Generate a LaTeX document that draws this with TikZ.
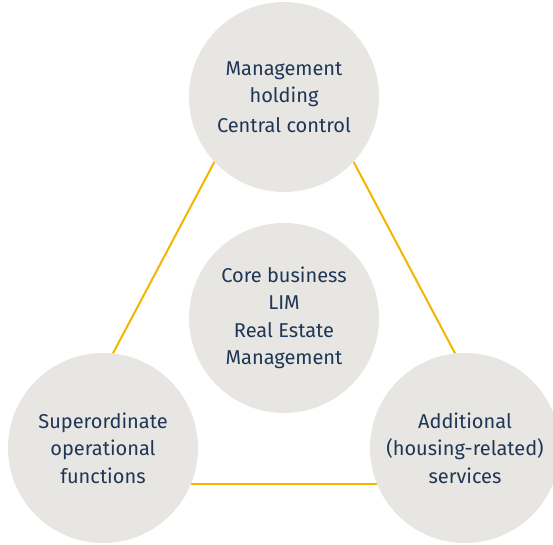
\documentclass[tikz,border=0pt]{standalone}
\usepackage{fontspec}
\setsansfont{Fira Sans}
\usetikzlibrary{backgrounds}
\definecolor{discgrey}{HTML}{E7E6E2}
\definecolor{inknavy}{HTML}{1F3656}
\definecolor{linkgold}{HTML}{F4B400}
\tikzset{
  disc/.style={circle, fill=discgrey, minimum size=190pt, inner sep=0pt,
    align=center, text=inknavy, font=\sffamily\fontsize{20}{27.5}\selectfont},
  link/.style={linkgold, line width=2pt}
}
\begin{document}
\begin{tikzpicture}[x=1pt, y=-1pt]
    \useasboundingbox (0,0) rectangle (553,544);
    % the four fields
    \node[disc] (holding) at (284,97) {Management\\holding\\[2pt]Central control};
    \node[disc] (core) at (284,318) {Core business\\LIM\\Real Estate\\Management};
    \node[disc] (functions) at (103,448) {Superordinate\\operational\\functions};
    \node[disc] (services) at (465,448) {Additional\\(housing-related)\\services};
    % gold triangle behind the outer fields
    \begin{scope}[on background layer]
    \draw[link] (holding.223)--(functions.84);
    \draw[link] (holding.317)--(services.96);
    \draw[link] (functions.338.5)--(functions.338.5 -| services.center);
    \end{scope}
\end{tikzpicture}
\end{document}
